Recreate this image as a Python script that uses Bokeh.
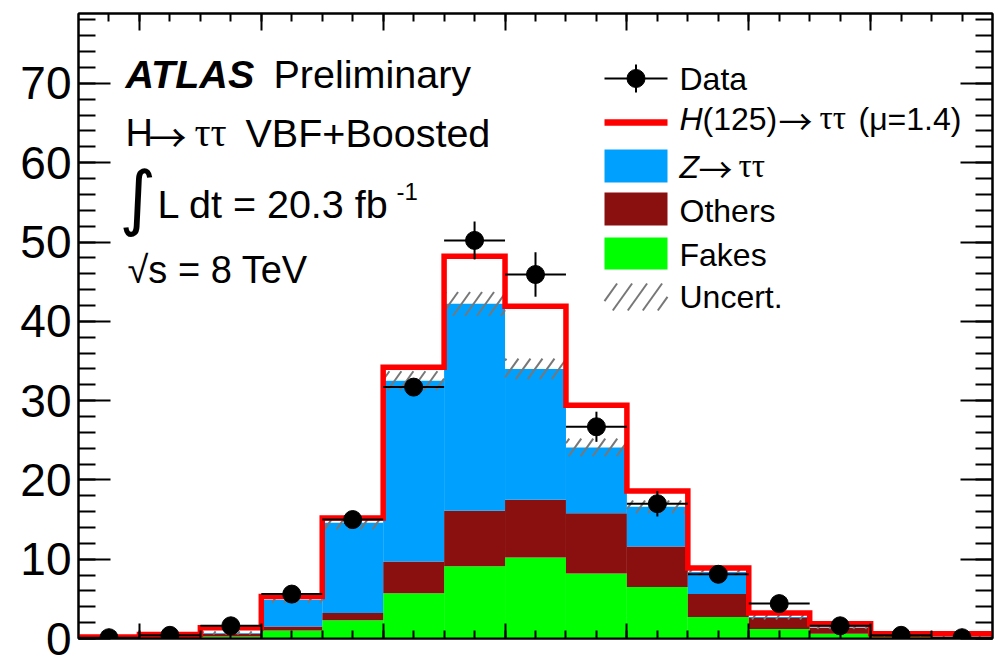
import numpy as np
from bokeh.plotting import figure
from bokeh.models import FixedTicker, LinearAxis, Range1d
from bokeh.core.properties import value
from bokeh.embed import file_html
from bokeh.resources import INLINE

# ---------------- data (15 bins; x-axis labels are not visible in the reference) ----------------
bin_edges = list(range(16))
data     = [0.1, 0.4, 1.6, 5.6, 15.0, 31.7, 50.2, 45.9, 26.7, 17.0, 8.1, 4.4, 1.6, 0.4, 0.1]
data_err = [0.2, 0.2, 0.3, 0.6, 0.8, 0.9, 2.4, 2.8, 1.9, 1.6, 0.8, 0.7, 0.5, 0.3, 0.2]
fakes    = [0.05, 0.1, 0.25, 1.0, 2.3, 5.7, 9.1, 10.2, 8.2, 6.5, 2.7, 1.2, 0.6, 0.15, 0.1]
others   = [0.03, 0.1, 0.35, 0.5, 0.9, 4.0, 7.0, 7.3, 7.6, 5.1, 2.9, 1.4, 0.75, 0.15, 0.05]
ztautau  = [0.02, 0.1, 0.1, 3.4, 11.4, 22.8, 26.1, 16.5, 8.3, 5.0, 2.8, 0.1, 0.05, 0.05, 0.05]
signal   = [0.1, 0.2, 0.65, 0.4, 0.6, 1.7, 6.0, 7.9, 5.3, 2.0, 0.5, 0.5, 0.45, 0.25, 0.4]
uncert   = [0.05, 0.1, 0.2, 0.4, 0.8, 1.2, 1.5, 1.3, 1.1, 0.8, 0.5, 0.3, 0.2, 0.1, 0.1]

y_ticks = [0, 10, 20, 30, 40, 50, 60, 70]
y_tick_labels = ["0", "10", "20", "30", "40", "50", "60", "70"]
x_major_ticks = [1, 3, 5, 7, 9, 11, 13]

legend_labels = ["Data", "Others", "Fakes", "Uncert."]

# ---------------- styles / geometry ----------------
C_Z = "#00A0FF"
C_OTH = "#8A1010"
C_FAKE = "#00FF00"
C_SIG = "#FF0000"
C_HATCH = "#777777"
FONT = "Liberation Sans"
SERIF = "Liberation Serif"
ARROWF = "Noto Sans CJK JP"
MATHF = "DejaVu Sans"

W, H = 999, 658
L, R, T, B = 78, 992, 13, 638
XMAX = 15.0
SY = 7.93
YMAX = (B - T) / SY
SX = (R - L) / XMAX


def X(px):
    return (px - L) / SX


def Y(py):
    return (B - py) / SY


p = figure(width=W, height=H, x_range=Range1d(0, XMAX), y_range=Range1d(0, YMAX),
           output_backend="svg", toolbar_location=None,
           min_border_left=L, min_border_right=W - R, min_border_top=T, min_border_bottom=H - B)
p.xgrid.visible = False
p.ygrid.visible = False
p.background_fill_color = "white"
p.border_fill_color = "white"
p.outline_line_color = "black"
p.outline_line_width = 2

edges = np.array(bin_edges, dtype=float)
left = edges[:-1]
right = edges[1:]
centers = (left + right) / 2
f = np.array(fakes)
o = np.array(others)
z = np.array(ztautau)
s = np.array(signal)
u = np.array(uncert)
d = np.array(data)
de = np.array(data_err)

b1 = f
b2 = f + o
bkg = f + o + z
tot = bkg + s

p.quad(left=left, right=right, bottom=0, top=b1, fill_color=C_FAKE, line_color=None)
p.quad(left=left, right=right, bottom=b1, top=b2, fill_color=C_OTH, line_color=None)
p.quad(left=left, right=right, bottom=b2, top=bkg, fill_color=C_Z, line_color=None)

SLOPE = 1.4  # screen slope of the hatch lines


def hatch_segments(x0, x1, y0, y1, spacing=12.0):
    """Diagonal '/' hatch lines clipped to a rectangle (data coords in, data coords out)."""
    px0, px1 = x0 * SX, x1 * SX
    py0, py1 = y0 * SY, y1 * SY
    segs = []
    c = np.floor((px0 - py1 / SLOPE) / spacing) * spacing
    while c <= px1 - py0 / SLOPE:
        xa = max(px0, c + py0 / SLOPE)
        xb = min(px1, c + py1 / SLOPE)
        if xb > xa:
            segs.append((xa / SX, SLOPE * (xa - c) / SY, xb / SX, SLOPE * (xb - c) / SY))
        c += spacing
    return segs


hs = []
for i in range(len(bkg)):
    hs += hatch_segments(left[i], right[i], max(bkg[i] - u[i], 0), bkg[i] + u[i])
# legend hatch box
hs += hatch_segments(X(604), X(667), Y(310), Y(283), spacing=15.0)
hs = np.array(hs)
p.segment(x0=hs[:, 0], y0=hs[:, 1], x1=hs[:, 2], y1=hs[:, 3], line_color=C_HATCH, line_width=2)

# signal+background outline
sx = np.repeat(edges, 2)[1:-1]
sy = np.repeat(tot, 2)
p.line(sx, sy, line_color=C_SIG, line_width=5.5, line_join="miter")

# data
p.segment(x0=left, x1=right, y0=d, y1=d, line_color="black", line_width=2)
p.segment(x0=centers, x1=centers, y0=d - de, y1=d + de, line_color="black", line_width=2)
p.scatter(centers, d, size=18, marker="circle", fill_color="black", line_color="black")

# ---------------- axes (ticks inside, mirrored) ----------------
yt = FixedTicker(ticks=y_ticks, minor_ticks=list(range(0, 80, 2)))
xt = FixedTicker(ticks=x_major_ticks, minor_ticks=list(np.arange(0.5, 15.0, 0.5)))


def style_axis(ax, ticker, major_in, minor_in, ticks, labels=None):
    ax.ticker = ticker
    ax.axis_line_color = "black"
    ax.axis_line_width = 2
    ax.major_tick_line_color = "black"
    ax.major_tick_line_width = 2
    ax.minor_tick_line_color = "black"
    ax.minor_tick_line_width = 2
    ax.major_tick_in = major_in
    ax.major_tick_out = 0
    ax.minor_tick_in = minor_in
    ax.minor_tick_out = 0
    ax.axis_label = None
    if labels is None:
        ax.major_label_overrides = {t: "" for t in ticks}
        ax.major_label_text_font_size = "0px"
        ax.major_label_standoff = 0
    else:
        ax.major_label_overrides = {t: lab for t, lab in zip(ticks, labels)}
        ax.major_label_text_font = FONT
        ax.major_label_text_font_size = "46px"
        ax.major_label_text_color = "black"
        ax.major_label_standoff = 7


style_axis(p.xaxis[0], xt, 15, 8, x_major_ticks)
style_axis(p.yaxis[0], yt, 32, 17, y_ticks, y_tick_labels)
top_ax = LinearAxis()
style_axis(top_ax, xt, 17, 8, x_major_ticks)
p.add_layout(top_ax, "above")
right_ax = LinearAxis()
style_axis(right_ax, yt, 32, 17, y_ticks)
p.add_layout(right_ax, "right")

# ---------------- texts ----------------
SHIFT = 0.37  # empirical offset of the rendered baseline, in em


def txt(px, py, s_, size, style="normal", font=FONT):
    p.text(x=[X(px)], y=[Y(py - SHIFT * size)], text=[s_], text_font=value(font),
           text_font_size=value(f"{size}px"), text_font_style=value(style),
           text_baseline=value("alphabetic"), text_align=value("left"), text_color="black")


txt(125, 88, "ATLAS", 39.5, "bold italic")
txt(273, 88, "Preliminary", 39.5)
txt(125, 147, "H", 38)
txt(148, 149, "\u2192", 38, font=ARROWF)
txt(194, 147, "\u03c4\u03c4", 40, font=SERIF)
txt(245, 147, "VBF+Boosted", 39.5)
txt(119, 223, "\u222b", 71, font=MATHF)
txt(157, 218, "L dt = 20.3 fb", 39.5)
txt(396, 200, "-1", 24)
txt(127, 284, "\u221as = 8 TeV", 38)

# ---------------- legend (drawn manually) ----------------
lx0, lx1 = 604, 667
# Data
p.segment(x0=[X(lx0)], x1=[X(lx1)], y0=[Y(78)], y1=[Y(78)], line_color="black", line_width=2)
p.segment(x0=[X(635.5)], x1=[X(635.5)], y0=[Y(64)], y1=[Y(92)], line_color="black", line_width=2)
p.scatter([X(635.5)], [Y(78)], size=18, marker="circle", fill_color="black", line_color="black")
# signal
p.segment(x0=[X(lx0)], x1=[X(lx1)], y0=[Y(122)], y1=[Y(122)], line_color=C_SIG, line_width=6.5)
# boxes
p.quad(left=[X(lx0)] * 3, right=[X(lx1)] * 3,
       top=[Y(149), Y(192), Y(237)], bottom=[Y(182), Y(225), Y(269)],
       fill_color=[C_Z, C_OTH, C_FAKE], line_color=None)

tx = 679
txt(tx, 90, legend_labels[0], 32)
txt(tx, 130, "H", 32, "italic")
txt(702, 130, "(125)", 32)
txt(778, 133, "\u2192", 34, font=ARROWF)
txt(819, 130, "\u03c4\u03c4", 33, font=SERIF)
txt(858, 130, "(\u03bc=1.4)", 32)
txt(tx, 178, "Z", 32, "italic")
txt(698, 181, "\u2192", 34, font=ARROWF)
txt(738, 178, "\u03c4\u03c4", 33, font=SERIF)
txt(tx, 222, legend_labels[1], 32)
txt(tx, 266, legend_labels[2], 32)
txt(tx, 308, legend_labels[3], 32)

open("out.html", "w").write(file_html(p, INLINE))
